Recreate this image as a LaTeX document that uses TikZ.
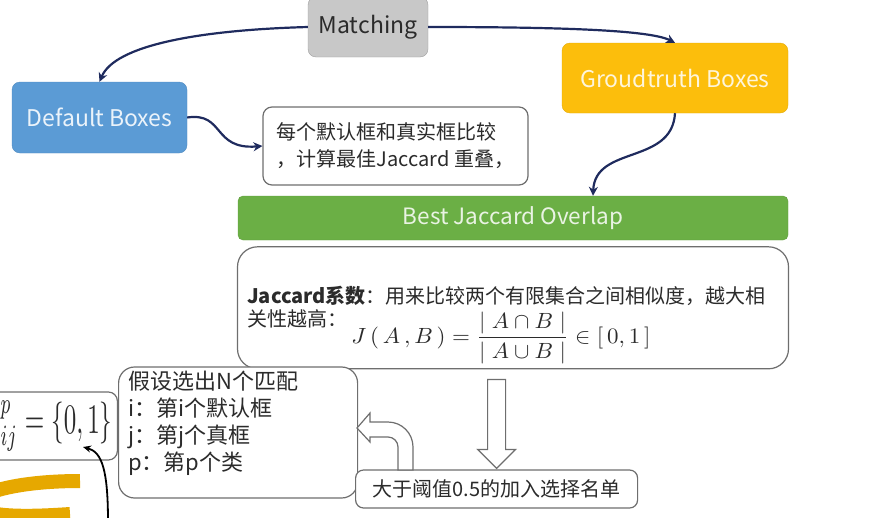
\documentclass[tikz,border=0pt]{standalone}
\usepackage{graphicx}
\usepackage{fontspec}
\setmainfont{Noto Sans CJK SC}
\usetikzlibrary{arrows.meta,positioning}
\definecolor{navy}{HTML}{1F2B5E}
\definecolor{mgray}{HTML}{C8C8C8}
\definecolor{dblue}{HTML}{5B9BD5}
\definecolor{gold}{HTML}{FCBE0C}
\definecolor{lgreen}{HTML}{6BAF45}
\definecolor{edge}{HTML}{6E6E6E}
\definecolor{ink}{HTML}{2B2B2B}
\definecolor{band}{HTML}{E6A800}

\begin{document}
\begin{tikzpicture}[
    x=1pt, y=1pt,
    box/.style={draw=edge, line width=1.2, rounded corners=9, fill=white,
                text=ink, inner sep=0},
    topic/.style={rounded corners=8, inner sep=0, font=\fontsize{23}{27}\selectfont},
    note/.style={box, font=\fontsize{20}{27}\selectfont, align=left},
    ar/.style={-{Stealth[length=9, width=9]}, line width=2.2, draw=navy},
    hollow/.style={draw=edge, line width=1.2, fill=white}
]
\useasboundingbox (0,0) rectangle (893,-517);
\clip (0,0) rectangle (893,-517);

\node[topic, fill=mgray, draw=mgray!80!black, text=ink,
      minimum width=120, minimum height=60] (match) at (368,-27) {Matching};
\node[topic, fill=dblue, draw=dblue!90!black, text=white!88!dblue,
      minimum width=175, minimum height=71] (dflt) at (99.5,-117.5) {Default Boxes};
\node[topic, fill=gold, draw=gold!90!black, text=white!85!gold,
      minimum width=226, minimum height=70] (gt) at (675,-78) {Groudtruth Boxes};
\node[note, minimum width=265, minimum height=78]
      (cmp) at (395.5,-146) {每个默认框和真实框比较\\，计算最佳Jaccard 重叠，};
\node[topic, fill=lgreen, draw=lgreen!90!black, text=white!85!lgreen, rounded corners=5,
      font=\fontsize{22.5}{26}\selectfont,
      minimum width=550, minimum height=44] (best) at (513,-218) {Best Jaccard Overlap};
\node[box, rounded corners=20, minimum width=551, minimum height=122,
      below=6 of best] (jacc) {};
\node[anchor=north west, inner sep=0, align=left, text=ink,
      font=\fontsize{20}{23}\selectfont] (jdef) at (247,-286)
      {\textbf{Jaccard系数}：用来比较两个有限集合之间相似度，越大相\\关性越高：};
\node[text=ink, inner sep=0] (jfml) at (501,-338)
      {\scalebox{2.3}[2.2]{$\displaystyle J\,(\,A\,,B\,)=\frac{|\;A\cap B\;|}{|\;A\cup B\;|}\in[\,0,1\,]$}};

\node[box, anchor=east, minimum height=68, inner xsep=5] (xij) at (118,-426)
      {\scalebox{2.5}[4.2]{$x_{ij}^{p}=\{0,1\}$}};
\node[box, rounded corners=16, anchor=west, minimum width=239,
      minimum height=131] (sel) at (118,-432.5) {};
\node[anchor=north west, inner sep=0, align=left, text=ink,
      font=\fontsize{22}{27}\selectfont] (seltxt) at (128,-371)
      {假设选出N个匹配\\i：第i个默认框\\j：第j个真框\\p：第p个类};
\node[box, rounded corners=8, anchor=west, minimum width=282, minimum height=38,
      font=\fontsize{20}{24}\selectfont] (thr) at (355,-489) {大于阈值0.5的加入选择名单};

\draw[ar] (match.west) .. controls (200,-30) and (115,-45) .. (dflt.north);
\draw[ar] (match.east) .. controls (560,-27) and (650,-30) .. (gt.north);
\draw[ar] (dflt.east) .. controls (225,-112) and (212,-150) .. (cmp.west);
\draw[ar] (gt.south) .. controls (672,-165) and (595,-145) .. ([xshift=80]best.north);

\draw[hollow] ([yshift=1]thr.north) -- ++(19,19) -- ++(-10,0) -- ++(0,70)
    -- ++(-18,0) -- ++(0,-70) -- ++(-10,0) -- cycle;
\draw[hollow] (357,-428) -- (370,-413) -- (370,-422) -- (388,-422)
    arc[start angle=90, end angle=0, radius=25] -- (413,-470) -- (398,-470)
    -- (398,-447) arc[start angle=0, end angle=90, radius=10]
    -- (370,-437) -- (370,-442) -- cycle;

\coordinate (zero) at (83,-447);
\draw[-{Stealth[length=8, width=7]}, line width=1.8]
    (108,-522) .. controls (108,-470) and (102,-452) .. (zero);
\draw[band, line width=14] (80,-481) .. controls (0,-481) and (-40,-500) .. (-20,-510)
    .. controls (0,-518) and (40,-516) .. (70,-514);
\end{tikzpicture}
\end{document}
